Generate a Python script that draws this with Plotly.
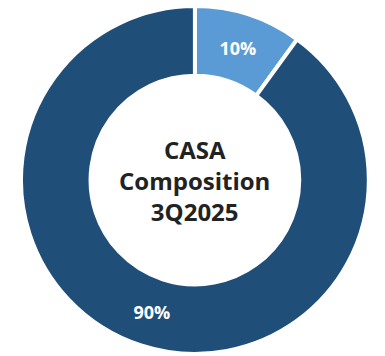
import plotly.graph_objects as go

labels = ["Current Account", "Savings Account"]
values = [10, 90]
colors = ["#5B9BD5", "#1F4E79"]
center_title = "CASA<br>Composition<br>3Q2025"

fig = go.Figure(go.Pie(
    labels=labels,
    values=values,
    hole=0.60,
    sort=False,
    direction="clockwise",
    rotation=0,
    domain=dict(x=[0.0545, 0.958], y=[0.0056, 0.983]),
    marker=dict(colors=colors, line=dict(color="white", width=4)),
    texttemplate="%{percent:.0%}",
    textposition="inside",
    insidetextorientation="horizontal",
    textfont=dict(family="Open Sans", size=18, color="white", weight="bold"),
    hoverinfo="label+percent",
    showlegend=False,
))

fig.add_annotation(
    text=center_title, x=0.506, y=0.494, xref="paper", yref="paper",
    showarrow=False,
    font=dict(family="Open Sans", size=24, color="#222222", weight="bold"),
)

fig.update_layout(
    width=385, height=356,
    margin=dict(l=0, r=0, t=0, b=0),
    paper_bgcolor="white",
    plot_bgcolor="white",
)

fig.write_html("out.html")
